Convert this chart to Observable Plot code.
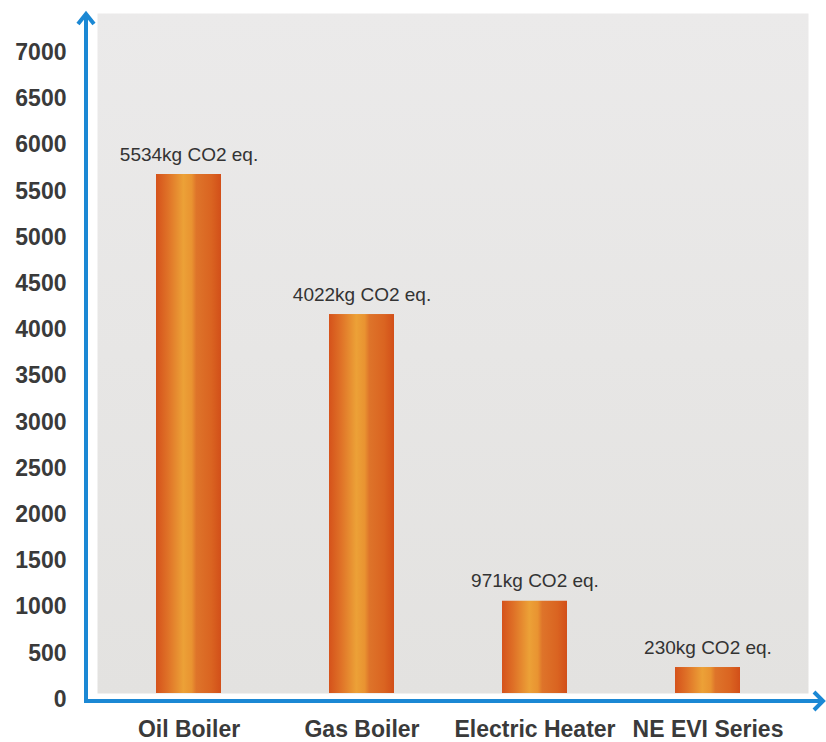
<!DOCTYPE html>
<html>
<head>
<meta charset="utf-8">
<script src="https://cdn.jsdelivr.net/npm/d3@7"></script>
<script src="https://cdn.jsdelivr.net/npm/@observablehq/plot@0.6"></script>
<style>
  html, body { margin: 0; padding: 0; background: #ffffff; }
  #chart { width: 826px; height: 742px; }
</style>
</head>
<body>
<svg width="0" height="0" style="position:absolute">
  <defs>
    <linearGradient id="bgGrad" x1="0" y1="0" x2="0" y2="1">
      <stop offset="0%" stop-color="#ebeaea"/>
      <stop offset="100%" stop-color="#e3e2e0"/>
    </linearGradient>
    <linearGradient id="barGrad" x1="0" y1="0" x2="1" y2="0">
      <stop offset="0%" stop-color="#d5521b"/>
      <stop offset="18%" stop-color="#df7127"/>
      <stop offset="42%" stop-color="#eca137"/>
      <stop offset="55%" stop-color="#e99331"/>
      <stop offset="62%" stop-color="#de742a"/>
      <stop offset="85%" stop-color="#da6421"/>
      <stop offset="100%" stop-color="#d24f19"/>
    </linearGradient>
    <linearGradient id="hlGrad" x1="0" y1="0" x2="1" y2="0">
      <stop offset="0%" stop-color="#e2722a"/>
      <stop offset="50%" stop-color="#f5c04e"/>
      <stop offset="100%" stop-color="#e2702a"/>
    </linearGradient>
  </defs>
</svg>
<div id="chart"></div>
<script>
// ---- data ----
const categories = ["Oil Boiler", "Gas Boiler", "Electric Heater", "NE EVI Series"];
const barHeights = [5680, 4165, 1063, 346];
const labelValues = [5534, 4022, 971, 230];          // values printed above bars
const labelUnit = "kg CO2 eq.";
const yTicks = [0, 500, 1000, 1500, 2000, 2500, 3000, 3500, 4000, 4500, 5000, 5500, 6000, 6500, 7000];

const data = categories.map((c, i) => ({cat: c, v: barHeights[i], label: labelValues[i] + labelUnit}));

const FONT = "'Liberation Sans', Arial, Helvetica, sans-serif";
const BLUE = "#1b88d4";

// decorative blue axis lines with open arrow heads, positioned from the scales
function axisArrows(index, scales, values, dims) {
  const ns = "http://www.w3.org/2000/svg";
  const g = document.createElementNS(ns, "g");
  const y0 = scales.y(0) + 2;
  const yTop = dims.marginTop - 38;
  const xL = dims.marginLeft - 14;
  const xR = dims.width - 3;
  const paths = [
    `M${xL},${y0 + 2}L${xL},${yTop + 1}`,
    `M${xL - 8},${yTop + 10}L${xL},${yTop}L${xL + 8},${yTop + 10}`,
    `M${xL - 2},${y0}L${xR - 1},${y0}`,
    `M${xR - 9},${y0 - 9}L${xR},${y0}L${xR - 9},${y0 + 9}`
  ];
  for (const d of paths) {
    const p = document.createElementNS(ns, "path");
    p.setAttribute("d", d);
    p.setAttribute("fill", "none");
    p.setAttribute("stroke", BLUE);
    p.setAttribute("stroke-width", 4);
    p.setAttribute("stroke-linejoin", "miter");
    g.appendChild(p);
  }
  return g;
}

const chart = Plot.plot({
  width: 826,
  height: 742,
  marginLeft: 100,
  marginRight: 31,
  marginTop: 52,
  marginBottom: 43,
  style: {fontFamily: FONT, background: "transparent", color: "#3a3a3a"},
  x: {domain: categories, paddingInner: 0.626, paddingOuter: 0.313, axis: null},
  y: {domain: [0, 7000], axis: null},
  marks: [
    Plot.frame({fill: "url(#bgGrad)", stroke: "none", insetLeft: -3, insetRight: -13, insetTop: -39, insetBottom: 6}),
    Plot.barY(data, {x: "cat", y: "v", fill: "url(#barGrad)", insetBottom: 6}),
    Plot.tickY(data, {x: "cat", y: "v", stroke: "url(#hlGrad)", strokeWidth: 3, dy: 1.5}),
    Plot.text(data, {x: "cat", y: "v", text: "label", dy: -20, fontSize: 19, fill: "#333333", lineAnchor: "middle"}),
    Plot.axisY({ticks: yTicks, tickSize: 0, tickPadding: 34, fontSize: 23, fontWeight: "bold", tickFormat: d => String(d), fill: "#3a3a3a", label: null}),
    Plot.axisX({tickSize: 0, tickPadding: 21, fontSize: 23, fontWeight: "bold", fill: "#3a3a3a", label: null}),
    axisArrows
  ]
});
document.getElementById("chart").appendChild(chart);
</script>
</body>
</html>
